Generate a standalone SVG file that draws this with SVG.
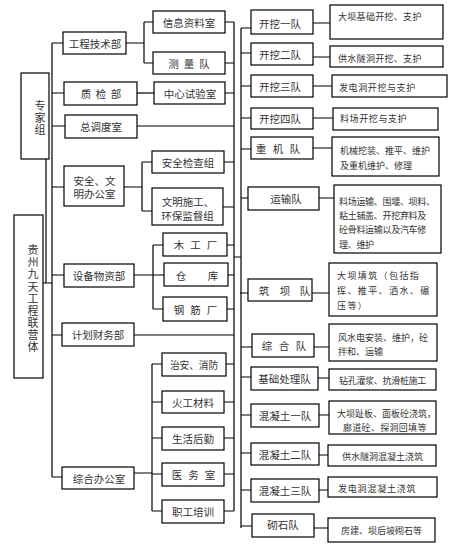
<svg xmlns="http://www.w3.org/2000/svg" width="450" height="549" viewBox="0 0 450 549">
<style>
.b{fill:#fff;stroke:#000;stroke-width:1.2}
.l{fill:none;stroke:#000;stroke-width:1.2}
text{font-family:"Noto Sans CJK SC","Noto Sans CJK TC",sans-serif;fill:#333;dominant-baseline:central}
.t{font-size:10.5px;text-anchor:middle}
.v{font-size:11px;text-anchor:start;writing-mode:vertical-rl}
.d{font-size:9px;text-anchor:start}
</style>
<rect width="450" height="549" fill="#fff"/>
<g id="connectors" class="l">
<path d="M46,159V283M43,283H52M52,43V477"/>
<path d="M52,43H63M52,93H64M52,126H65M52,187H64M52,275H64M52,335H62M52,477H62"/>
<path d="M126,43H144M144,22V63M144,22H153M144,63H153"/>
<path d="M137,93H154"/>
<path d="M137,126H234"/>
<path d="M124,187H142M142,162V211M142,162H152M142,211H152"/>
<path d="M134,275H153M153,245V309M153,245H163M153,275H164M153,309H163"/>
<path d="M134,335H234"/>
<path d="M134,473H152M152,364V511M152,364H162M152,402H162M152,438H162M152,474H162M152,511H162"/>
<path d="M225,22H234M225,63H234M225,93H234M224,162H234M223,207H234M227,245H234M228,275H234M227,309H234M226,364H234M224,402H234M224,438H234M224,474H234M224,511H234"/>
<path d="M234,22V511M234,257H241M241,28V528"/>
<path d="M241,28H251M241,53H251M241,86H251M241,118H251M241,149H251M241,198H248M240,293H248M241,347H252M241,377H251M241,415H251M241,453H251M241,490H251M241,526H252"/>
<path d="M313,23H330M313,57H330M313,86H332M313,118H333M313,148H332M319,198H334M312,293H329M314,347H329M318,378H329M319,415H329M319,455H328M319,490H328M314,528H328"/>
</g>
<g id="n-zhuanjia"><rect class="b" x="21" y="73" width="28" height="86"/><text class="v" x="40" y="100.5" font-size="10.5" letter-spacing="1">专家组</text></g>
<g id="n-root"><rect class="b" x="14" y="215" width="29" height="163"/><text class="v" x="33" y="244.5" letter-spacing="1.15">贵州九天工程联营体</text></g>
<g id="n-gcjs"><rect class="b" x="63" y="32" width="63" height="22"/><text class="t" x="95" y="43">工程技术部</text></g>
<g id="n-zjb"><rect class="b" x="64" y="82" width="73" height="23"/><text class="t" x="86 101 116" y="93.5">质检部</text></g>
<g id="n-zdds"><rect class="b" x="65" y="115" width="72" height="23"/><text class="t" x="101" y="126.5">总调度室</text></g>
<g id="n-aqwm"><rect class="b" x="64" y="166" width="60" height="40"/><text class="t" x="94.5" y="180">安全、文</text><text class="t" x="94.5" y="193.5">明办公室</text></g>
<g id="n-sbwz"><rect class="b" x="64" y="264" width="70" height="23"/><text class="t" x="99" y="275.5">设备物资部</text></g>
<g id="n-jhcw"><rect class="b" x="62" y="323" width="72" height="23"/><text class="t" x="98" y="334.5">计划财务部</text></g>
<g id="n-zhbgs"><rect class="b" x="62" y="467" width="72" height="22"/><text class="t" x="99" y="478">综合办公室</text></g>
<g id="n-xxzl"><rect class="b" x="153" y="11" width="72" height="22"/><text class="t" x="189" y="22">信息资料室</text></g>
<g id="n-cld"><rect class="b" x="153" y="52" width="72" height="22"/><text class="t" x="173.5 189 204.5" y="63">测量队</text></g>
<g id="n-zxsy"><rect class="b" x="154" y="82" width="71" height="22"/><text class="t" x="190" y="93">中心试验室</text></g>
<g id="n-aqjc"><rect class="b" x="152" y="151" width="72" height="22"/><text class="t" x="188" y="162">安全检查组</text></g>
<g id="n-wmsg"><rect class="b" x="152" y="188" width="71" height="37"/><text class="t" x="188" y="201">文明施工、</text><text class="t" x="187.5" y="215">环保监督组</text></g>
<g id="n-mgc"><rect class="b" x="163" y="233" width="64" height="23"/><text class="t" x="179 195.5 212" y="244.5">木工厂</text></g>
<g id="n-ck"><rect class="b" x="164" y="263" width="64" height="23"/><text class="t" x="181 213" y="275">仓库</text></g>
<g id="n-gjc"><rect class="b" x="163" y="297" width="64" height="24"/><text class="t" x="179 195.5 212" y="309">钢筋厂</text></g>
<g id="n-zaxf"><rect class="b" x="162" y="353" width="64" height="23"/><text class="t" x="194" y="364.5" textLength="48" lengthAdjust="spacingAndGlyphs">治安、消防</text></g>
<g id="n-hgcl"><rect class="b" x="162" y="391" width="62" height="22"/><text class="t" x="193" y="402">火工材料</text></g>
<g id="n-shhq"><rect class="b" x="162" y="427" width="62" height="23"/><text class="t" x="193" y="438.5">生活后勤</text></g>
<g id="n-yws"><rect class="b" x="162" y="463" width="62" height="23"/><text class="t" x="177 193.5 210" y="474.5">医务室</text></g>
<g id="n-zgpx"><rect class="b" x="162" y="500" width="62" height="23"/><text class="t" x="193" y="511.5">职工培训</text></g>
<g id="n-kw1"><rect class="b" x="251" y="10" width="62" height="24"/><text class="t" x="280" y="23">开挖一队</text></g>
<g id="n-kw2"><rect class="b" x="251" y="43" width="62" height="22"/><text class="t" x="280" y="54">开挖二队</text></g>
<g id="n-kw3"><rect class="b" x="251" y="75" width="62" height="22"/><text class="t" x="280" y="86">开挖三队</text></g>
<g id="n-kw4"><rect class="b" x="251" y="108" width="62" height="21"/><text class="t" x="280" y="118.5">开挖四队</text></g>
<g id="n-zjd"><rect class="b" x="251" y="137" width="62" height="22"/><text class="t" x="261 278 295" y="148">重机队</text></g>
<g id="n-ysd"><rect class="b" x="248" y="187" width="71" height="23"/><text class="t" x="286" y="198.5">运输队</text></g>
<g id="n-zbd"><rect class="b" x="248" y="279" width="64" height="22"/><text class="t" x="264 285 305" y="290">筑坝队</text></g>
<g id="n-zhd"><rect class="b" x="252" y="334" width="62" height="23"/><text class="t" x="267 284 301" y="345.5">综合队</text></g>
<g id="n-jccl"><rect class="b" x="251" y="367" width="67" height="23"/><text class="t" x="284.5" y="378.5">基础处理队</text></g>
<g id="n-hnt1"><rect class="b" x="251" y="404" width="68" height="23"/><text class="t" x="285" y="415.5">混凝土一队</text></g>
<g id="n-hnt2"><rect class="b" x="251" y="443" width="68" height="22"/><text class="t" x="285" y="454">混凝土二队</text></g>
<g id="n-hnt3"><rect class="b" x="251" y="479" width="68" height="23"/><text class="t" x="285" y="490.5">混凝土三队</text></g>
<g id="n-qsd"><rect class="b" x="252" y="514" width="62" height="23"/><text class="t" x="283" y="524.5">砌石队</text></g>
<g id="d-kw1"><rect class="b" x="330" y="5" width="113" height="34"/><text class="d" x="338" y="16" letter-spacing="0.3">大坝基础开挖、支护</text></g>
<g id="d-kw2"><rect class="b" x="330" y="46" width="113" height="21"/><text class="d" x="338" y="58.5" letter-spacing="0.3">供水隧洞开挖、支护</text></g>
<g id="d-kw3"><rect class="b" x="332" y="75" width="115" height="22"/><text class="d" x="339" y="87" letter-spacing="0.6">发电洞开挖与支护</text></g>
<g id="d-kw4"><rect class="b" x="333" y="108" width="105" height="22"/><text class="d" x="340" y="118.5" letter-spacing="0.6">料场开挖与支护</text></g>
<g id="d-zjd"><rect class="b" x="332" y="137" width="107" height="39"/><text class="d" x="340" y="150">机械挖装、推平、维护</text><text class="d" x="340" y="165">及重机维护、修理</text></g>
<g id="d-ysd"><rect class="b" x="334" y="185" width="107" height="68"/><text class="d" x="339" y="201" letter-spacing="-0.3">料场运输、围堰、坝料、</text><text class="d" x="339" y="215" letter-spacing="-0.3">粘土铺盖、开挖弃料及</text><text class="d" x="339" y="229.5" letter-spacing="-0.3">砼骨料运输以及汽车修</text><text class="d" x="339" y="244" letter-spacing="-0.3">理、维护</text></g>
<g id="d-zbd"><rect class="b" x="329" y="263" width="108" height="53"/><text class="d" x="337" y="275" font-size="10.5" letter-spacing="1.4">大坝填筑（包括指</text><text class="d" x="337" y="290" font-size="10.5" letter-spacing="1.4">挥、推平、洒水、碾</text><text class="d" x="337" y="305" font-size="10.5" letter-spacing="1.4">压等）</text></g>
<g id="d-zhd"><rect class="b" x="329" y="324" width="108" height="37"/><text class="d" x="338" y="337">风水电安装、维护，砼</text><text class="d" x="338" y="351">拌和、运输</text></g>
<g id="d-jccl"><rect class="b" x="329" y="369" width="107" height="21"/><text class="d" x="339" y="380" letter-spacing="-0.3">钻孔灌浆、抗滑桩施工</text></g>
<g id="d-hnt1"><rect class="b" x="329" y="401" width="107" height="33"/><text class="d" x="337" y="413" font-size="8.5">大坝趾板、面板砼浇筑，</text><text class="d" x="343" y="427" font-size="8.5" letter-spacing="0.3">廊道砼、探洞回填等</text></g>
<g id="d-hnt2"><rect class="b" x="328" y="445" width="108" height="21"/><text class="d" x="342" y="456">供水隧洞混凝土浇筑</text></g>
<g id="d-hnt3"><rect class="b" x="328" y="477" width="109" height="20"/><text class="d" x="338" y="488" letter-spacing="0.8">发电洞混凝土浇筑</text></g>
<g id="d-qsd"><rect class="b" x="328" y="518" width="107" height="24"/><text class="d" x="341" y="530">房建、坝后坡砌石等</text></g>
</svg>
